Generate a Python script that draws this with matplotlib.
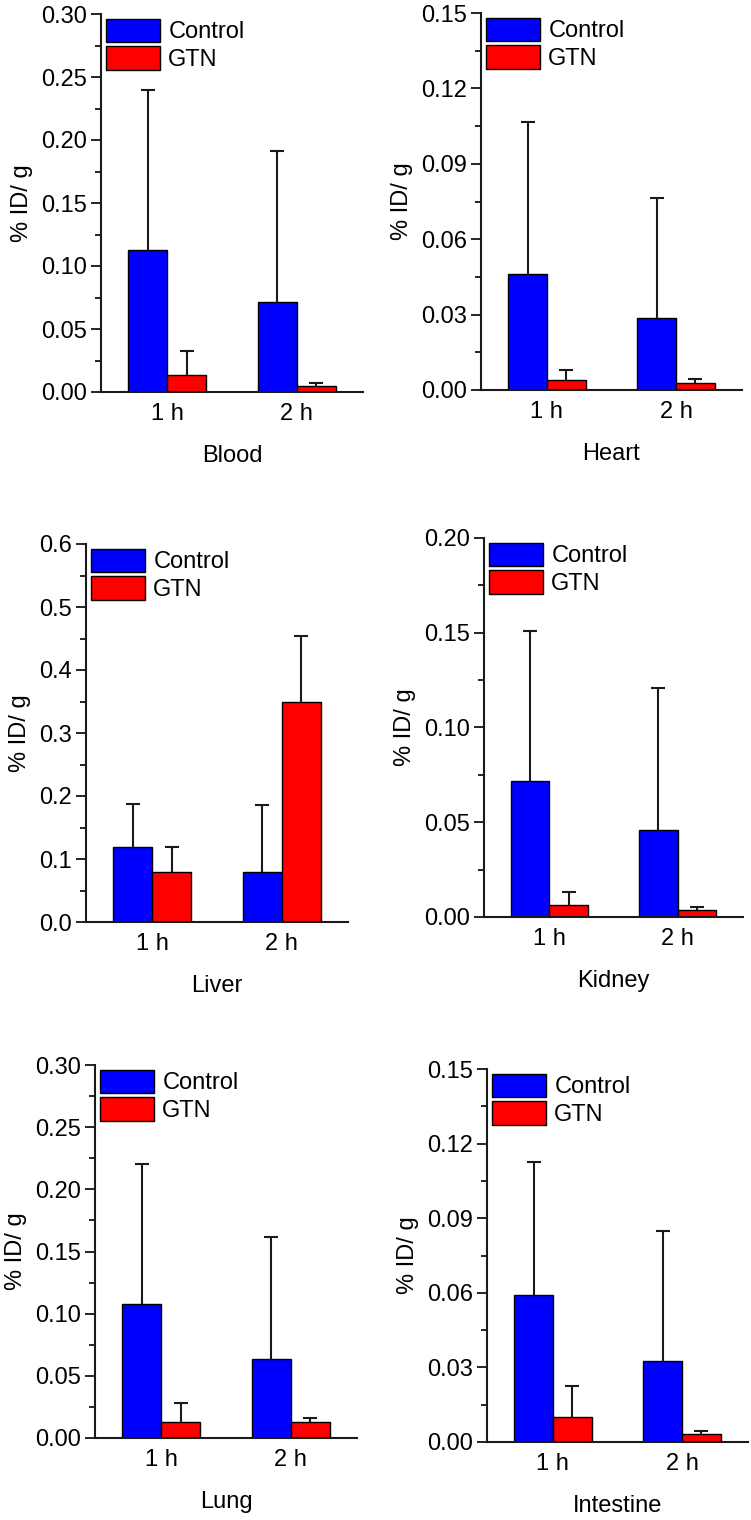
import matplotlib
matplotlib.use("Agg")
import matplotlib.pyplot as plt
from matplotlib.ticker import MultipleLocator, FormatStrFormatter
import numpy as np

plt.rcParams['font.family'] = ['Liberation Sans', 'DejaVu Sans']

# shared categories / series
times = ["1 h", "2 h"]
series = ["Control", "GTN"]
colors = ["#0000ff", "#ff0000"]

# values (mean, upper error)
blood_control = [0.1127, 0.0712]
blood_control_err = [0.127, 0.120]
blood_gtn = [0.0132, 0.0050]
blood_gtn_err = [0.019, 0.0019]

heart_control = [0.0461, 0.0285]
heart_control_err = [0.0606, 0.0480]
heart_gtn = [0.0038, 0.0029]
heart_gtn_err = [0.0042, 0.0015]

liver_control = [0.1196, 0.0788]
liver_control_err = [0.0674, 0.1069]
liver_gtn = [0.0788, 0.3497]
liver_gtn_err = [0.0408, 0.1048]

kidney_control = [0.0717, 0.0458]
kidney_control_err = [0.0791, 0.0751]
kidney_gtn = [0.0062, 0.0039]
kidney_gtn_err = [0.0068, 0.0014]

lung_control = [0.108, 0.0635]
lung_control_err = [0.1125, 0.0985]
lung_gtn = [0.0129, 0.0126]
lung_gtn_err = [0.0152, 0.0035]

intestine_control = [0.0591, 0.0325]
intestine_control_err = [0.0533, 0.0524]
intestine_gtn = [0.0099, 0.0032]
intestine_gtn_err = [0.0128, 0.0011]

organs = ["Blood", "Heart", "Liver", "Kidney", "Lung", "Intestine"]
control_means = [blood_control, heart_control, liver_control, kidney_control, lung_control, intestine_control]
control_errs = [blood_control_err, heart_control_err, liver_control_err, kidney_control_err, lung_control_err, intestine_control_err]
gtn_means = [blood_gtn, heart_gtn, liver_gtn, kidney_gtn, lung_gtn, intestine_gtn]
gtn_errs = [blood_gtn_err, heart_gtn_err, liver_gtn_err, kidney_gtn_err, lung_gtn_err, intestine_gtn_err]

y_max = [0.30, 0.15, 0.6, 0.20, 0.30, 0.15]
y_step = [0.05, 0.03, 0.1, 0.05, 0.05, 0.03]
y_fmt = ["%.2f", "%.2f", "%.1f", "%.2f", "%.2f", "%.2f"]

# axes boxes in pixels: left, top, right, bottom
W, H = 751, 1520
boxes = [(101, 14, 363, 392), (481, 13, 742, 390),
         (86, 544, 348, 922), (484, 538, 743, 917),
         (95, 1065, 357, 1438), (487, 1069, 748, 1442)]

fig = plt.figure(figsize=(W / 100, H / 100), dpi=100)

x = np.arange(1, len(times) + 1)
width = 0.3
fs = 17

for i, organ in enumerate(organs):
    l, t, r, b = boxes[i]
    ax = fig.add_axes([l / W, 1 - b / H, (r - l) / W, (b - t) / H])
    ekw = dict(ecolor="#1a1a1a", elinewidth=1.5, capsize=5, capthick=1.5)
    for k, (means, errs) in enumerate([(control_means[i], control_errs[i]),
                                       (gtn_means[i], gtn_errs[i])]):
        offset = (k - 0.5) * width
        bars = ax.bar(x + offset, means, width, color=colors[k], edgecolor="black",
                      linewidth=1, label=series[k],
                      yerr=[np.zeros(len(times)), errs], error_kw=ekw)
        # only the upper cap is shown in the original
        caps = bars.errorbar.lines[1]
        if len(caps) > 1:
            caps[0].set_visible(False)

    ax.set_xlim(0.49, 2.51)
    ax.set_ylim(0, y_max[i])
    ax.set_xticks(x)
    ax.set_xticklabels(times, fontsize=fs)
    ax.yaxis.set_major_locator(MultipleLocator(y_step[i]))
    ax.yaxis.set_minor_locator(MultipleLocator(y_step[i] / 2))
    ax.yaxis.set_major_formatter(FormatStrFormatter(y_fmt[i]))
    ax.tick_params(axis="y", which="major", direction="out", length=7, width=1.2, labelsize=fs, pad=3)
    ax.tick_params(axis="y", which="minor", direction="out", length=4, width=1.2)
    ax.tick_params(axis="x", length=0, pad=8)
    for s in ["top", "right"]:
        ax.spines[s].set_visible(False)
    for s in ["left", "bottom"]:
        ax.spines[s].set_linewidth(1.5)
        ax.spines[s].set_color("#1a1a1a")

    ax.set_xlabel(organ, fontsize=fs, labelpad=14)
    ax.set_ylabel("% ID/ g", fontsize=fs, labelpad=6)
    ax.legend(loc="upper left", frameon=False, fontsize=fs, handlelength=2.3,
              handleheight=1.15, labelspacing=0.12, handletextpad=0.35,
              borderpad=0, borderaxespad=0.2)

fig.savefig("out.png", dpi=100)
